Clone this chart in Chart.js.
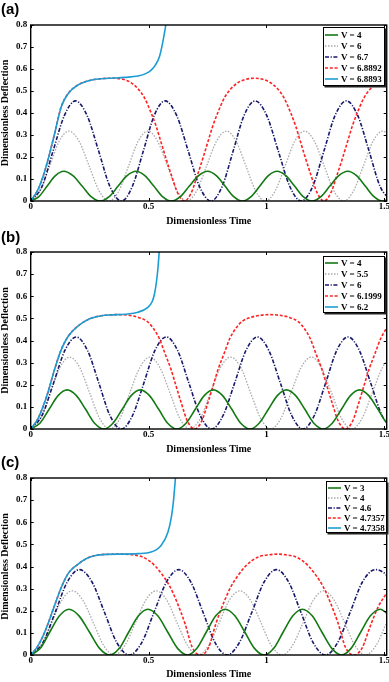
<!DOCTYPE html>
<html>
<head>
<meta charset="utf-8">
<script src="https://cdn.jsdelivr.net/npm/chart.js@4.4.1/dist/chart.umd.min.js"></script>
<style>
  body { margin: 0; background: #fff; width: 389px; height: 682px; overflow: hidden; position: relative; }
  .panel { position: absolute; left: 0; width: 389px; }
  .tag { position: absolute; left: 1px; font: bold 15px 'Liberation Sans', Arial, sans-serif; line-height: 15px; color: #000; }
  .legend { position: absolute; background: #fff; border: 1px solid #000; box-shadow: 1.5px 1.5px 0 #222; box-sizing: border-box; padding-top: 1px; }
  .legend .row { display: flex; align-items: center; white-space: nowrap; font: bold 9px 'Liberation Serif', 'Times New Roman', serif; color: #000; }
  .legend svg { flex: none; margin: 0 3px 0 1px; }
</style>
</head>
<body>
<script>
Chart.defaults.font.family = "'Liberation Serif', 'Times New Roman', serif";
Chart.defaults.color = '#000';

const xTicks = [0, 0.5, 1, 1.5];
const yTicks = [0, 0.1, 0.2, 0.3, 0.4, 0.5, 0.6, 0.7, 0.8];

// ---- panel (a) ----
const aLabels = ['V = 4', 'V = 6', 'V = 6.7', 'V = 6.8892', 'V = 6.8893'];
const aV4 = [[0,0],[0.035,0.02],[0.07,0.068],[0.105,0.115],[0.14,0.135],[0.179,0.115],[0.218,0.068],[0.256,0.02],[0.295,0],[0.333,0.02],[0.371,0.068],[0.409,0.115],[0.447,0.135],[0.484,0.115],[0.522,0.068],[0.559,0.02],[0.596,0],[0.635,0.02],[0.673,0.068],[0.712,0.115],[0.75,0.135],[0.787,0.115],[0.824,0.068],[0.861,0.02],[0.898,0],[0.935,0.02],[0.972,0.068],[1.008,0.115],[1.045,0.135],[1.082,0.115],[1.119,0.068],[1.156,0.02],[1.193,0],[1.231,0.02],[1.269,0.068],[1.307,0.115],[1.345,0.135],[1.382,0.115],[1.419,0.068],[1.456,0.02],[1.493,0],[1.52,0.01]];
const aV6 = [[0,0],[0.04,0.046],[0.081,0.159],[0.121,0.272],[0.162,0.318],[0.205,0.272],[0.248,0.159],[0.29,0.046],[0.333,0],[0.374,0.046],[0.415,0.159],[0.456,0.272],[0.497,0.318],[0.538,0.272],[0.58,0.159],[0.621,0.046],[0.662,0],[0.704,0.046],[0.746,0.159],[0.788,0.272],[0.83,0.318],[0.871,0.272],[0.913,0.159],[0.954,0.046],[0.995,0],[1.037,0.046],[1.079,0.159],[1.12,0.272],[1.162,0.318],[1.203,0.272],[1.245,0.159],[1.286,0.046],[1.327,0],[1.369,0.046],[1.411,0.159],[1.452,0.272],[1.494,0.318],[1.535,0.272]];
const aV67 = [[0,0],[0.048,0.066],[0.095,0.228],[0.143,0.389],[0.19,0.455],[0.239,0.389],[0.288,0.228],[0.336,0.066],[0.385,0],[0.431,0.066],[0.478,0.228],[0.524,0.389],[0.57,0.455],[0.619,0.389],[0.668,0.228],[0.716,0.066],[0.765,0],[0.812,0.066],[0.859,0.228],[0.905,0.389],[0.952,0.455],[1.001,0.389],[1.05,0.228],[1.099,0.066],[1.148,0],[1.196,0.066],[1.244,0.228],[1.291,0.389],[1.339,0.455],[1.387,0.389],[1.435,0.228],[1.482,0.066],[1.53,0]];
const aV68892 = [[0,0],[0.03,0.05],[0.052,0.11],[0.073,0.186],[0.1,0.3],[0.13,0.43],[0.16,0.49],[0.2,0.527],[0.25,0.548],[0.3,0.556],[0.356,0.558],[0.392,0.553],[0.422,0.54],[0.455,0.51],[0.482,0.47],[0.511,0.4],[0.532,0.34],[0.552,0.27],[0.572,0.2],[0.596,0.12],[0.624,0.035],[0.652,0],[0.68,0.035],[0.708,0.12],[0.732,0.2],[0.752,0.27],[0.772,0.34],[0.793,0.4],[0.822,0.47],[0.849,0.51],[0.882,0.54],[0.912,0.553],[0.948,0.558],[0.984,0.553],[1.014,0.54],[1.047,0.51],[1.074,0.47],[1.103,0.4],[1.124,0.34],[1.144,0.27],[1.164,0.2],[1.188,0.12],[1.216,0.035],[1.244,0],[1.272,0.035],[1.3,0.12],[1.324,0.2],[1.344,0.27],[1.364,0.34],[1.385,0.4],[1.414,0.47],[1.441,0.51],[1.474,0.54],[1.504,0.553],[1.54,0.558]];
const aV68893 = [[0,0],[0.03,0.05],[0.052,0.11],[0.073,0.186],[0.1,0.3],[0.13,0.43],[0.16,0.49],[0.2,0.527],[0.25,0.548],[0.3,0.556],[0.356,0.559],[0.4,0.562],[0.455,0.568],[0.49,0.58],[0.511,0.595],[0.53,0.62],[0.546,0.656],[0.558,0.71],[0.567,0.762],[0.573,0.8],[0.58,0.87]];

// ---- panel (b) ----
const bLabels = ['V = 4', 'V = 5.5', 'V = 6', 'V = 6.1999', 'V = 6.2'];
const bV4 = [[0,0],[0.039,0.026],[0.078,0.089],[0.116,0.151],[0.155,0.177],[0.194,0.151],[0.233,0.089],[0.271,0.026],[0.31,0],[0.349,0.026],[0.388,0.089],[0.426,0.151],[0.465,0.177],[0.504,0.151],[0.543,0.089],[0.581,0.026],[0.62,0],[0.659,0.026],[0.698,0.089],[0.736,0.151],[0.775,0.177],[0.814,0.151],[0.853,0.089],[0.891,0.026],[0.93,0],[0.969,0.026],[1.008,0.089],[1.046,0.151],[1.085,0.177],[1.124,0.151],[1.163,0.089],[1.201,0.026],[1.24,0],[1.279,0.026],[1.318,0.089],[1.356,0.151],[1.395,0.177],[1.434,0.151],[1.473,0.089],[1.511,0.026],[1.55,0]];
const bV55 = [[0,0],[0.041,0.047],[0.083,0.163],[0.124,0.278],[0.165,0.325],[0.208,0.278],[0.25,0.163],[0.293,0.047],[0.335,0],[0.378,0.047],[0.42,0.163],[0.463,0.278],[0.505,0.325],[0.548,0.278],[0.591,0.163],[0.633,0.047],[0.676,0],[0.719,0.047],[0.762,0.163],[0.805,0.278],[0.848,0.325],[0.891,0.278],[0.933,0.163],[0.976,0.047],[1.018,0],[1.061,0.047],[1.104,0.163],[1.147,0.278],[1.19,0.325],[1.233,0.278],[1.276,0.163],[1.319,0.047],[1.362,0],[1.405,0.047],[1.449,0.163],[1.492,0.278],[1.535,0.325]];
const bV6 = [[0,0],[0.048,0.061],[0.097,0.208],[0.145,0.355],[0.193,0.416],[0.241,0.355],[0.289,0.208],[0.336,0.061],[0.384,0],[0.432,0.061],[0.48,0.208],[0.527,0.355],[0.575,0.416],[0.623,0.355],[0.671,0.208],[0.719,0.061],[0.767,0],[0.816,0.061],[0.865,0.208],[0.913,0.355],[0.962,0.416],[1.01,0.355],[1.059,0.208],[1.107,0.061],[1.155,0],[1.203,0.061],[1.251,0.208],[1.298,0.355],[1.346,0.416],[1.394,0.355],[1.442,0.208],[1.49,0.061],[1.538,0]];
const bV61999 = [[0,0],[0.03,0.045],[0.052,0.1],[0.073,0.165],[0.1,0.265],[0.13,0.36],[0.16,0.42],[0.2,0.465],[0.25,0.498],[0.3,0.512],[0.375,0.517],[0.415,0.514],[0.455,0.505],[0.495,0.485],[0.52,0.455],[0.545,0.41],[0.57,0.34],[0.595,0.27],[0.615,0.2],[0.638,0.12],[0.665,0.035],[0.695,0],[0.725,0.035],[0.752,0.12],[0.775,0.2],[0.795,0.27],[0.82,0.34],[0.845,0.41],[0.87,0.455],[0.895,0.485],[0.935,0.505],[0.975,0.514],[1.015,0.517],[1.055,0.514],[1.095,0.505],[1.135,0.485],[1.16,0.455],[1.185,0.41],[1.21,0.34],[1.235,0.27],[1.255,0.2],[1.278,0.12],[1.305,0.035],[1.335,0],[1.365,0.035],[1.392,0.12],[1.415,0.2],[1.435,0.27],[1.46,0.34],[1.485,0.41],[1.51,0.455],[1.535,0.485]];
const bV62 = [[0,0],[0.03,0.045],[0.052,0.1],[0.073,0.165],[0.1,0.265],[0.13,0.36],[0.16,0.42],[0.2,0.465],[0.25,0.498],[0.3,0.512],[0.35,0.516],[0.4,0.519],[0.455,0.528],[0.497,0.55],[0.515,0.575],[0.525,0.61],[0.534,0.67],[0.54,0.73],[0.545,0.8],[0.55,0.87]];

// ---- panel (c) ----
const cLabels = ['V = 3', 'V = 4', 'V = 4.6', 'V = 4.7357', 'V = 4.7358'];
const cV3 = [[0,0],[0.041,0.03],[0.081,0.104],[0.122,0.177],[0.162,0.207],[0.205,0.177],[0.249,0.104],[0.292,0.03],[0.335,0],[0.376,0.03],[0.416,0.104],[0.457,0.177],[0.497,0.207],[0.539,0.177],[0.581,0.104],[0.623,0.03],[0.665,0],[0.705,0.03],[0.745,0.104],[0.785,0.177],[0.825,0.207],[0.866,0.177],[0.908,0.104],[0.949,0.03],[0.99,0],[1.031,0.03],[1.071,0.104],[1.112,0.177],[1.152,0.207],[1.194,0.177],[1.235,0.104],[1.277,0.03],[1.318,0],[1.359,0.03],[1.4,0.104],[1.441,0.177],[1.482,0.207],[1.523,0.177]];
const cV4 = [[0,0],[0.044,0.042],[0.088,0.145],[0.132,0.248],[0.176,0.29],[0.221,0.248],[0.266,0.145],[0.31,0.042],[0.355,0],[0.399,0.042],[0.444,0.145],[0.488,0.248],[0.532,0.29],[0.577,0.248],[0.621,0.145],[0.666,0.042],[0.71,0],[0.754,0.042],[0.799,0.145],[0.843,0.248],[0.887,0.29],[0.932,0.248],[0.977,0.145],[1.021,0.042],[1.066,0],[1.11,0.042],[1.155,0.145],[1.199,0.248],[1.243,0.29],[1.287,0.248],[1.332,0.145],[1.376,0.042],[1.42,0],[1.464,0.042],[1.509,0.145],[1.553,0.248]];
const cV46 = [[0,0],[0.052,0.056],[0.104,0.193],[0.155,0.33],[0.207,0.386],[0.26,0.33],[0.313,0.193],[0.365,0.056],[0.418,0],[0.471,0.056],[0.523,0.193],[0.576,0.33],[0.628,0.386],[0.679,0.33],[0.731,0.193],[0.782,0.056],[0.833,0],[0.885,0.056],[0.938,0.193],[0.99,0.33],[1.042,0.386],[1.094,0.33],[1.146,0.193],[1.198,0.056],[1.25,0],[1.302,0.056],[1.355,0.193],[1.407,0.33],[1.462,0.386],[1.51,0.36],[1.54,0.31]];
const cV47357 = [[0,0],[0.03,0.04],[0.052,0.085],[0.073,0.14],[0.1,0.22],[0.13,0.306],[0.16,0.37],[0.2,0.41],[0.235,0.435],[0.27,0.449],[0.32,0.455],[0.395,0.456],[0.43,0.453],[0.47,0.445],[0.5,0.428],[0.53,0.4],[0.56,0.36],[0.59,0.31],[0.62,0.24],[0.655,0.14],[0.685,0.035],[0.72,0],[0.755,0.035],[0.785,0.14],[0.82,0.24],[0.85,0.31],[0.88,0.36],[0.91,0.4],[0.94,0.428],[0.97,0.445],[1.01,0.453],[1.045,0.456],[1.08,0.453],[1.12,0.445],[1.15,0.428],[1.18,0.4],[1.21,0.36],[1.24,0.31],[1.27,0.24],[1.305,0.14],[1.335,0.035],[1.37,0],[1.405,0.03],[1.44,0.13],[1.475,0.22],[1.51,0.28],[1.54,0.33]];
const cV47358 = [[0,0],[0.03,0.04],[0.052,0.085],[0.073,0.14],[0.1,0.22],[0.13,0.306],[0.16,0.37],[0.2,0.41],[0.235,0.435],[0.27,0.449],[0.32,0.455],[0.395,0.456],[0.455,0.458],[0.511,0.465],[0.553,0.495],[0.582,0.555],[0.596,0.62],[0.605,0.69],[0.61,0.75],[0.614,0.8],[0.62,0.88]];

// line look for the 5 curves of every panel
const styles = [
  { color: '#137a13', dash: [], width: 1.6 },
  { color: '#a9a9a9', dash: [1.5, 1.5], width: 1.3 },
  { color: '#17176c', dash: [4, 1.6, 1.2, 1.6], width: 1.6 },
  { color: '#ff2222', dash: [3, 1.8], width: 1.6 },
  { color: '#1b9dd4', dash: [], width: 1.6 }
];
const drawOrder = [1, 4, 3, 2, 0];

const panels = [
  { tag: '(a)', labels: aLabels, series: [aV4, aV6, aV67, aV68892, aV68893],
    top: 0, height: 226, padTop: 25, xH: 25, titlePad: 0, tagTop: 1,
    legend: { left: 323, top: 27, width: 62, rowH: 11.2 } },
  { tag: '(b)', labels: bLabels, series: [bV4, bV55, bV6, bV61999, bV62],
    top: 226, height: 228, padTop: 26, xH: 25, titlePad: 0, tagTop: 229,
    legend: { left: 323, top: 256, width: 62, rowH: 10.8 } },
  { tag: '(c)', labels: cLabels, series: [cV3, cV4, cV46, cV47357, cV47358],
    top: 454, height: 228, padTop: 24, xH: 27, titlePad: 3, tagTop: 454,
    legend: { left: 326, top: 481, width: 61, rowH: 9.9 } }
];

// frame + inward ticks like the original plot box
const boxPlugin = {
  id: 'box',
  afterDraw(chart) {
    const { ctx, chartArea: a, scales: { x, y } } = chart;
    ctx.save();
    ctx.strokeStyle = '#000';
    ctx.lineWidth = 1;
    ctx.beginPath();
    xTicks.forEach(v => {
      const p = Math.round(x.getPixelForValue(v)) + 0.5;
      ctx.moveTo(p, a.bottom); ctx.lineTo(p, a.bottom - 3);
      ctx.moveTo(p, a.top); ctx.lineTo(p, a.top + 3);
    });
    yTicks.forEach(v => {
      const p = Math.round(y.getPixelForValue(v)) + 0.5;
      ctx.moveTo(a.left, p); ctx.lineTo(a.left + 3, p);
      ctx.moveTo(a.right, p); ctx.lineTo(a.right - 3, p);
    });
    ctx.stroke();
    ctx.lineWidth = 1.4;
    ctx.strokeRect(a.left, a.top, a.right - a.left, a.bottom - a.top);
    ctx.restore();
  }
};

const tickFont = { size: 9, weight: 'bold', lineHeight: 1 };
const titleFont = { size: 10, weight: 'bold', lineHeight: 1 };

panels.forEach(p => {
  const wrap = document.createElement('div');
  wrap.className = 'panel';
  wrap.style.top = p.top + 'px';
  wrap.style.height = p.height + 'px';
  const canvas = document.createElement('canvas');
  wrap.appendChild(canvas);
  document.body.appendChild(wrap);

  new Chart(canvas, {
    type: 'line',
    data: {
      datasets: p.series.map((s, i) => ({
        label: p.labels[i],
        data: s.map(([x, y]) => ({ x, y })),
        borderColor: styles[i].color,
        borderDash: styles[i].dash,
        borderWidth: styles[i].width,
        pointRadius: 0,
        fill: false,
        cubicInterpolationMode: 'monotone',
        order: drawOrder[i]
      }))
    },
    options: {
      responsive: true,
      maintainAspectRatio: false,
      animation: false,
      events: [],
      layout: { padding: { top: p.padTop, right: 2.3, left: 0, bottom: 0 } },
      plugins: { legend: { display: false }, tooltip: { enabled: false } },
      scales: {
        x: {
          type: 'linear', min: 0, max: 1.51,
          afterBuildTicks: s => { s.ticks = xTicks.map(v => ({ value: v })); },
          afterFit: s => { s.height = p.xH; s.paddingLeft = 0; s.paddingRight = 0; },
          grid: { display: false, drawTicks: false },
          border: { display: false },
          ticks: { font: tickFont, color: '#000', padding: 1.2, maxRotation: 0, autoSkip: false, callback: v => String(v) },
          title: { display: true, text: 'Dimensionless Time', color: '#000', font: titleFont, padding: { top: 0, bottom: p.titlePad } }
        },
        y: {
          min: 0, max: 0.8,
          afterBuildTicks: s => { s.ticks = yTicks.map(v => ({ value: v })); },
          afterFit: s => { s.width = 30.7; s.paddingTop = 0; s.paddingBottom = 0; },
          grid: { display: false, drawTicks: false },
          border: { display: false },
          ticks: { font: tickFont, color: '#000', padding: 3.4, callback: v => v === 0 ? '0' : v.toFixed(1) },
          title: { display: true, text: 'Dimensionless Deflection', color: '#000', font: titleFont, padding: 0 }
        }
      }
    },
    plugins: [boxPlugin]
  });

  const tag = document.createElement('div');
  tag.className = 'tag';
  tag.style.top = p.tagTop + 'px';
  tag.textContent = p.tag;
  document.body.appendChild(tag);

  // legend box inside the plot, top right
  const lg = document.createElement('div');
  lg.className = 'legend';
  lg.style.left = p.legend.left + 'px';
  lg.style.top = p.legend.top + 'px';
  lg.style.width = p.legend.width + 'px';
  p.labels.forEach((lab, i) => {
    const row = document.createElement('div');
    row.className = 'row';
    row.style.height = p.legend.rowH + 'px';
    row.innerHTML = `<svg width="13" height="6"><line x1="0" y1="3" x2="13" y2="3" stroke="${styles[i].color}" stroke-width="${styles[i].width}" stroke-dasharray="${styles[i].dash.join(' ') || 'none'}"/></svg><span>${lab}</span>`;
    lg.appendChild(row);
  });
  document.body.appendChild(lg);
});
</script>
</body>
</html>
